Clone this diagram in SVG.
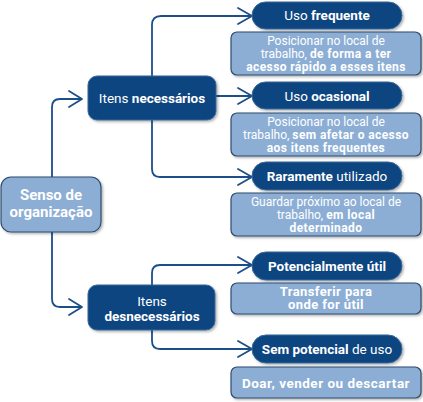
<svg xmlns="http://www.w3.org/2000/svg" width="423" height="402" viewBox="0 0 423 402">
<defs>
<filter id="sh" x="-10%" y="-15%" width="125%" height="140%">
<feDropShadow dx="1.5" dy="1.5" stdDeviation="1" flood-color="#000" flood-opacity="0.3"/>
</filter>
<style>
.dark{fill:#0b4581;stroke:#3a6898;stroke-width:1;filter:url(#sh)}
.light{fill:#8caed5;stroke:#2d4c6e;stroke-width:1.2;filter:url(#sh)}
text{font-family:Roboto,"Liberation Sans",sans-serif;fill:#fff;text-anchor:middle}
.t13{font-size:13.5px}
.t12{font-size:12px}
.t12.b,.t12 .b{letter-spacing:0.4px}
.tb13{font-size:13px;font-weight:bold;letter-spacing:0.4px}
.tb14{font-size:13.5px;font-weight:bold;letter-spacing:0.5px}
.t15{font-size:15px;font-weight:bold}
.b{font-weight:bold}
.con{fill:none;stroke:#1c4f8a;stroke-width:1.8;stroke-linejoin:round;stroke-linecap:round}
</style>
</defs>
<rect width="423" height="402" fill="#fff"/>
<g id="connectors" class="con">
<path d="M52,177 V107 Q52,99 60,99 H81"/>
<path d="M69,91 L82,99 L69,107"/>
<path d="M52,232 V299 Q52,307 60,307 H81"/>
<path d="M69,299 L82,307 L69,315"/>
<path d="M152,76 V25 Q152,16 161,16 H251"/>
<path d="M238,8 L252,16 L238,24"/>
<path d="M216,96 H251"/>
<path d="M238,88 L252,96 L238,104"/>
<path d="M152,120 V169 Q152,177 160,177 H251"/>
<path d="M238,169 L252,177 L238,185"/>
<path d="M152,285 V273 Q152,265 160,265 H251"/>
<path d="M238,257 L252,265 L238,273"/>
<path d="M152,330 V341 Q152,349 160,349 H251"/>
<path d="M238,341 L252,349 L238,357"/>
</g>
<g id="senso">
<rect class="light" x="1" y="177" width="100" height="55" rx="10"/>
<text class="t15" x="51" y="200">Senso de</text>
<text class="t15" x="51" y="217">organização</text>
</g>
<g id="necessarios">
<rect class="dark" x="88" y="76" width="128" height="44" rx="9"/>
<text class="t13" x="152" y="103">Itens <tspan class="b">necessários</tspan></text>
</g>
<g id="desnecessarios">
<rect class="dark" x="88" y="285" width="127" height="45" rx="9"/>
<text class="t13" x="152" y="306">Itens</text>
<text class="t13 b" x="152" y="320.5">desnecessários</text>
</g>
<g id="frequente">
<rect class="dark" x="252" y="2" width="150" height="27" rx="13.5"/>
<text class="t13" x="327" y="20">Uso <tspan class="b">frequente</tspan></text>
</g>
<g id="desc-frequente">
<rect class="light" x="231" y="32" width="190" height="43" rx="6"/>
<text class="t12" x="326" y="45">Posicionar no local de</text>
<text class="t12" x="326" y="58">trabalho, <tspan class="b">de forma a ter</tspan></text>
<text class="t12 b" x="326" y="71">acesso rápido a esses itens</text>
</g>
<g id="ocasional">
<rect class="dark" x="252" y="82" width="150" height="27" rx="13.5"/>
<text class="t13" x="327" y="100.5">Uso <tspan class="b">ocasional</tspan></text>
</g>
<g id="desc-ocasional">
<rect class="light" x="231" y="113" width="190" height="43" rx="6"/>
<text class="t12" x="326" y="126">Posicionar no local de</text>
<text class="t12" x="326" y="139">trabalho, <tspan class="b">sem afetar o acesso</tspan></text>
<text class="t12 b" x="326" y="152">aos itens frequentes</text>
</g>
<g id="raramente">
<rect class="dark" x="252" y="162" width="150" height="28" rx="14"/>
<text class="t13" x="327" y="180.5"><tspan class="b">Raramente</tspan> utilizado</text>
</g>
<g id="desc-raramente">
<rect class="light" x="231" y="193" width="190" height="43" rx="6"/>
<text class="t12" x="326" y="206">Guardar próximo ao local de</text>
<text class="t12" x="326" y="219">trabalho, <tspan class="b">em local</tspan></text>
<text class="t12 b" x="326" y="232">determinado</text>
</g>
<g id="potencialmente">
<rect class="dark" x="252" y="252" width="150" height="28" rx="14"/>
<text class="t13 b" x="327" y="270.5">Potencialmente útil</text>
</g>
<g id="desc-potencialmente">
<rect class="light" x="231" y="283" width="190" height="31" rx="6"/>
<text class="tb13" x="326" y="295.5">Transferir para</text>
<text class="tb13" x="326" y="309">onde for útil</text>
</g>
<g id="sem-potencial">
<rect class="dark" x="252" y="335" width="150" height="28" rx="14"/>
<text class="t13" x="327" y="353.5"><tspan class="b">Sem potencial</tspan> de uso</text>
</g>
<g id="desc-sem-potencial">
<rect class="light" x="231" y="367" width="190" height="31" rx="6"/>
<text class="tb14" x="326" y="387.5">Doar, vender ou descartar</text>
</g>
</svg>
